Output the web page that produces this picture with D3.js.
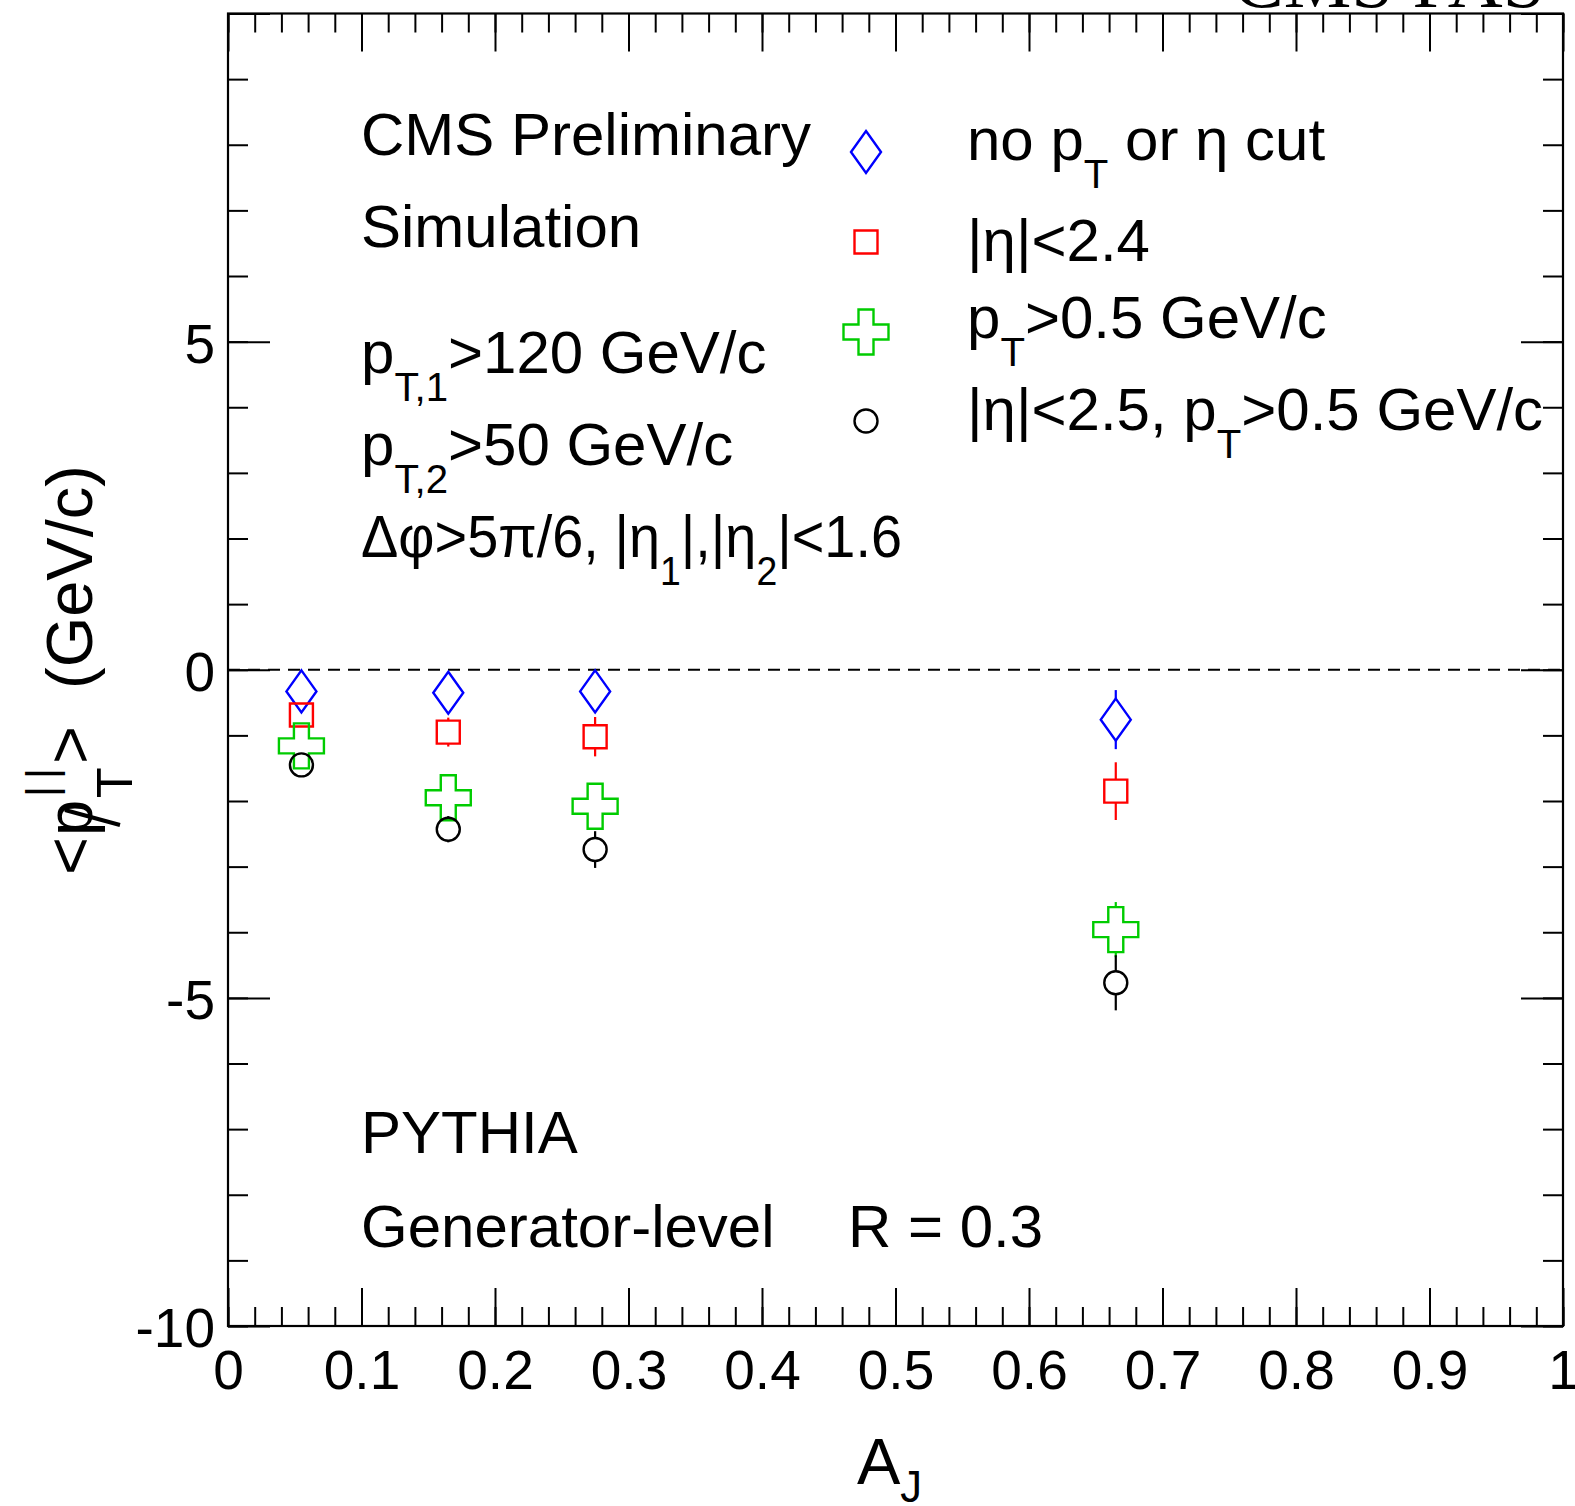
<!DOCTYPE html>
<html>

<head>
    <meta charset="utf-8">
    <title>pT parallel vs AJ</title>
    <style>
        body { margin: 0; background: #fff; }
        text { font-family: "Liberation Sans", Arial, Helvetica, sans-serif; fill: #000; white-space: pre; }
    </style>
</head>

<body>

<main></main>

<script src="https://cdn.jsdelivr.net/npm/d3@7"></script>
<script>
    // 画布
    var width = 1575,
        height = 1506;

    // A_J bin centres
    var ajBins = [0.055, 0.165, 0.275, 0.665];

    // <pT||> (GeV/c) and errors for each track selection
    var noCutVals = [-0.33, -0.35, -0.33, -0.76];
    var noCutErrs = [0.12, 0.15, 0.18, 0.45];
    var etaCutVals = [-0.69, -0.95, -1.02, -1.85];
    var etaCutErrs = [0.12, 0.22, 0.30, 0.44];
    var ptCutVals = [-1.16, -1.95, -2.08, -3.96];
    var ptCutErrs = [0.15, 0.30, 0.32, 0.42];
    var bothCutVals = [-1.45, -2.43, -2.74, -4.77];
    var bothCutErrs = [0.10, 0.20, 0.28, 0.42];

    // ticks
    var xTickValues = [0, 0.1, 0.2, 0.3, 0.4, 0.5, 0.6, 0.7, 0.8, 0.9, 1];
    var xTickLabels = ["0", "0.1", "0.2", "0.3", "0.4", "0.5", "0.6", "0.7", "0.8", "0.9", "1"];
    var yTickValues = [-10, -5, 0, 5, 10];
    var yTickLabels = ["-10", "-5", "0", "5", ""];

    var svg = d3.select("main").append("svg")
        .attr("width", width).attr("height", height);

    // plot frame in pixels
    var frameL = 228, frameR = 1563, frameT = 13.5, frameB = 1326;

    var x = d3.scaleLinear().domain([0, 1]).range([frameL, frameR]);
    var y = d3.scaleLinear().domain([-10, 10]).range([frameB, frameT]);

    var xMinor = d3.range(0, 51).map(function (i) { return i * 0.02; });
    var yMinor = d3.range(-10, 11);

    function styleAxis(g) {
        g.select(".domain").remove();
        g.selectAll(".tick line").attr("stroke", "#000").attr("stroke-width", 2);
        g.selectAll(".tick text").style("font-size", "55px").attr("fill", "#000");
    }

    // bottom axis
    svg.append("g").attr("transform", "translate(0," + frameB + ")")
        .call(d3.axisBottom(x).tickValues(xMinor).tickSize(-19).tickFormat(""))
        .call(styleAxis);
    svg.append("g").attr("transform", "translate(0," + frameB + ")")
        .call(d3.axisBottom(x).tickValues(xTickValues).tickSize(-38).tickPadding(24)
            .tickFormat(function (d, i) { return xTickLabels[i]; }))
        .call(styleAxis);
    // top axis
    svg.append("g").attr("transform", "translate(0," + frameT + ")")
        .call(d3.axisTop(x).tickValues(xMinor).tickSize(-19).tickFormat(""))
        .call(styleAxis);
    svg.append("g").attr("transform", "translate(0," + frameT + ")")
        .call(d3.axisTop(x).tickValues(xTickValues).tickSize(-38).tickFormat(""))
        .call(styleAxis);
    // left axis
    svg.append("g").attr("transform", "translate(" + frameL + ",0)")
        .call(d3.axisLeft(y).tickValues(yMinor).tickSize(-20).tickFormat(""))
        .call(styleAxis);
    var yAx = svg.append("g").attr("transform", "translate(" + frameL + ",0)")
        .call(d3.axisLeft(y).tickValues(yTickValues).tickSize(-42).tickPadding(13)
            .tickFormat(function (d, i) { return yTickLabels[i]; }))
        .call(styleAxis);
    yAx.selectAll(".tick text").attr("dy", "0.38em");
    // right axis
    svg.append("g").attr("transform", "translate(" + frameR + ",0)")
        .call(d3.axisRight(y).tickValues(yMinor).tickSize(-20).tickFormat(""))
        .call(styleAxis);
    svg.append("g").attr("transform", "translate(" + frameR + ",0)")
        .call(d3.axisRight(y).tickValues(yTickValues).tickSize(-42).tickFormat(""))
        .call(styleAxis);

    // frame
    svg.append("rect")
        .attr("x", frameL).attr("y", frameT)
        .attr("width", frameR - frameL).attr("height", frameB - frameT)
        .attr("fill", "none").attr("stroke", "#000").attr("stroke-width", 2.2);

    // dashed zero line
    svg.append("line")
        .attr("x1", x(0)).attr("x2", x(1))
        .attr("y1", y(0)).attr("y2", y(0))
        .attr("stroke", "#000").attr("stroke-width", 2)
        .attr("stroke-dasharray", "12,8");

    // marker shapes (open)
    var shapes = {
        diamond: { path: "M0,-21L15,0L0,21L-15,0Z", half: 21 },
        square: { path: "M-11.5,-11.5h23v23h-23Z", half: 11.5 },
        cross: { path: "M-7.5,-22.5h15v15h15v15h-15v15h-15v-15h-15v-15h15Z", half: 22.5 },
        circle: { path: "M11.5,0A11.5,11.5 0 1,1 -11.5,0A11.5,11.5 0 1,1 11.5,0Z", half: 11.5 }
    };

    var series = [
        { vals: noCutVals, errs: noCutErrs, color: "#0000ff", shape: "diamond" },
        { vals: etaCutVals, errs: etaCutErrs, color: "#ff0000", shape: "square" },
        { vals: ptCutVals, errs: ptCutErrs, color: "#00cc00", shape: "cross" },
        { vals: bothCutVals, errs: bothCutErrs, color: "#000000", shape: "circle" }
    ];

    series.forEach(function (s) {
        var sh = shapes[s.shape];
        var pts = ajBins.map(function (a, i) { return { a: a, v: s.vals[i], e: s.errs[i] }; });
        var g = svg.append("g");
        // error bars outside the marker
        g.selectAll("line.up").data(pts).enter().append("line")
            .attr("x1", function (d) { return x(d.a); })
            .attr("x2", function (d) { return x(d.a); })
            .attr("y1", function (d) { return y(d.v + d.e); })
            .attr("y2", function (d) { return Math.max(y(d.v + d.e), y(d.v) - sh.half); })
            .attr("stroke", s.color).attr("stroke-width", 2.2);
        g.selectAll("line.dn").data(pts).enter().append("line")
            .attr("x1", function (d) { return x(d.a); })
            .attr("x2", function (d) { return x(d.a); })
            .attr("y1", function (d) { return Math.min(y(d.v - d.e), y(d.v) + sh.half); })
            .attr("y2", function (d) { return y(d.v - d.e); })
            .attr("stroke", s.color).attr("stroke-width", 2.2);
        g.selectAll("path").data(pts).enter().append("path")
            .attr("d", sh.path)
            .attr("transform", function (d) { return "translate(" + x(d.a) + "," + y(d.v) + ")"; })
            .attr("fill", "none").attr("stroke", s.color).attr("stroke-width", 2.4);
    });

    // text with subscripts
    function richText(g, px, py, parts, size, subShift) {
        var t = g.append("text").attr("x", px).attr("y", py).style("font-size", size + "px");
        var shift = 0;
        var k = subShift || 0.47;
        parts.forEach(function (p) {
            var s = p[1] === "sub" ? k * size : 0;
            var ts = t.append("tspan").text(p[0]).attr("dy", s - shift);
            if (p[1] === "sub") ts.style("font-size", (size * 0.67) + "px");
            shift = s;
        });
        return t;
    }

    // left text block
    richText(svg, 361, 155, [["CMS Preliminary"]], 60);
    richText(svg, 361, 247, [["Simulation"]], 60);
    richText(svg, 361, 373, [["p"], ["T,1", "sub"], [">120 GeV/c"]], 60);
    richText(svg, 361, 465, [["p"], ["T,2", "sub"], [">50 GeV/c"]], 60);
    richText(svg, 361, 557, [["Δφ>5π/6, |η"], ["1", "sub"], ["|,|η"], ["2", "sub"], ["|<1.6"]], 60)
        .attr("textLength", 541).attr("lengthAdjust", "spacingAndGlyphs");
    richText(svg, 361, 1153, [["PYTHIA"]], 60);
    richText(svg, 361, 1247, [["Generator-level"]], 60);
    richText(svg, 848, 1247, [["R = 0.3"]], 60);

    // legend
    var legendLabels = [
        [["no p"], ["T", "sub"], [" or η cut"]],
        [["|η|<2.4"]],
        [["p"], ["T", "sub"], [">0.5 GeV/c"]],
        [["|η|<2.5, p"], ["T", "sub"], [">0.5 GeV/c"]]
    ];
    var legendMarkY = [152, 242, 332, 421];
    var legendTextY = [160, 261, 338, 430];
    series.forEach(function (s, i) {
        svg.append("path")
            .attr("d", shapes[s.shape].path)
            .attr("transform", "translate(866," + legendMarkY[i] + ")")
            .attr("fill", "none").attr("stroke", s.color).attr("stroke-width", 2.4);
        richText(svg, 967, legendTextY[i], legendLabels[i], 60);
    });

    // x title
    richText(svg, 857, 1484, [["A"], ["J", "sub"]], 65, 0.27);

    // y title (rotated)
    var yt = svg.append("g").attr("transform", "translate(92,873) rotate(-90)");
    yt.append("text").attr("x", -2).attr("y", 0).style("font-size", "65px").text("<");
    yt.append("text").attr("x", 37).attr("y", 0).style("font-size", "65px").text("p");
    yt.append("line").attr("x1", 48).attr("y1", 28).attr("x2", 63).attr("y2", -27)
        .attr("stroke", "#000").attr("stroke-width", 4);
    yt.append("text").attr("x", 75).attr("y", 40).style("font-size", "50px").text("T");
    yt.append("text").attr("x", 76).attr("y", -36).style("font-size", "42px").text("|");
    yt.append("text").attr("x", 94).attr("y", -36).style("font-size", "42px").text("|");
    yt.append("text").attr("x", 109).attr("y", 0).style("font-size", "65px").text(">");
    yt.append("text").attr("x", 184).attr("y", 0).style("font-size", "65px").text("(GeV/c)");

    // clipped header
    svg.append("text")
        .attr("x", 1233).attr("y", 7)
        .style("font-family", "'Liberation Serif', 'Times New Roman', serif")
        .style("font-size", "76px")
        .attr("fill", "#2b5c98")
        .text("CMS PAS");
</script>
</body>

</html>
